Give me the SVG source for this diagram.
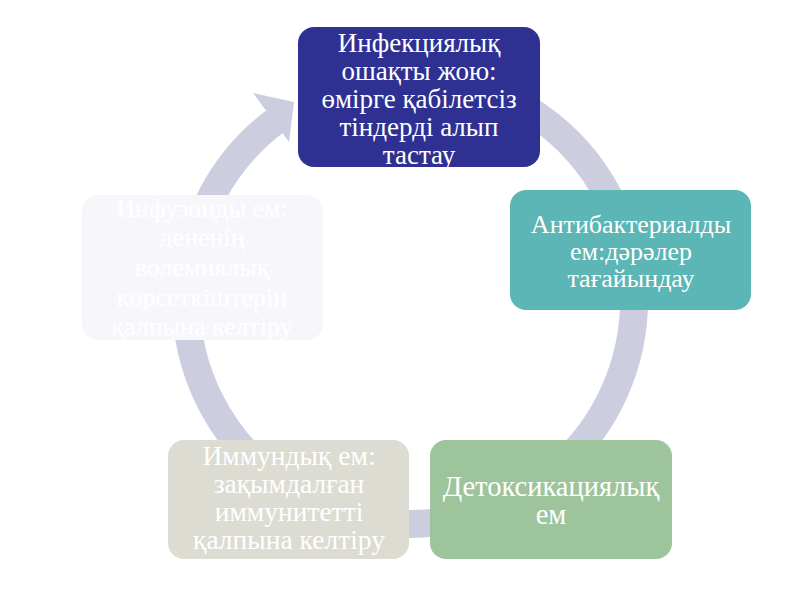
<svg xmlns="http://www.w3.org/2000/svg" width="800" height="600" viewBox="0 0 800 600">
<style>
.t{font-family:"Liberation Serif","Times New Roman",serif;font-size:26px;fill:#ffffff;text-anchor:middle}
.t27{font-size:27px}
.t275{font-size:27.5px}
.t285{font-size:28.5px}
.ring{fill:none;stroke:#cdcde0;stroke-width:28}
</style>
<rect width="800" height="600" fill="#ffffff"/>
<g id="connectors">
<path class="ring" d="M 448.9 79.4 A 224 224 0 1 1 274.6 121.6"/>
<polygon points="253,93 294,102 289,142" fill="#cdcde0"/>
</g>
<g id="node-top">
<rect x="298" y="27" width="242" height="140" rx="16" fill="#2e3192"/>
<text class="t t27" x="419" y="52">Инфекциялық</text>
<text class="t t27" x="419" y="80">ошақты жою:</text>
<text class="t t27" x="419" y="108">өмірге қабілетсіз</text>
<text class="t t27" x="419" y="136">тіндерді алып</text>
<text class="t t27" x="419" y="164">тастау</text>
</g>
<g id="node-right">
<rect x="510" y="190" width="241" height="120" rx="16" fill="#5cb6b5"/>
<text class="t" x="631" y="233">Антибактериалды</text>
<text class="t" x="631" y="260">ем:дәрәлер</text>
<text class="t" x="631" y="287">тағайындау</text>
</g>
<g id="node-bottom-right">
<rect x="430" y="440" width="242" height="119" rx="16" fill="#9dc49b"/>
<text class="t t285" x="551" y="496">Детоксикациялық</text>
<text class="t t285" x="551" y="524">ем</text>
</g>
<g id="node-bottom-left">
<rect x="168" y="440" width="241" height="119" rx="16" fill="#dcdcd2"/>
<text class="t t275" x="289" y="465">Иммундық ем:</text>
<text class="t t275" x="289" y="493">зақымдалған</text>
<text class="t t275" x="289" y="521">иммунитетті</text>
<text class="t t275" x="289" y="549">қалпына келтіру</text>
</g>
<g id="node-left">
<rect x="82" y="195" width="241" height="145" rx="16" fill="#f7f7fb"/>
<text class="t" x="202" y="217">Инфузонды ем:</text>
<text class="t" x="202" y="246">дененің</text>
<text class="t" x="202" y="276">волемиялық</text>
<text class="t" x="202" y="306">көрсеткіштерін</text>
<text class="t" x="202" y="335">қалпына келтіру</text>
</g>
</svg>
